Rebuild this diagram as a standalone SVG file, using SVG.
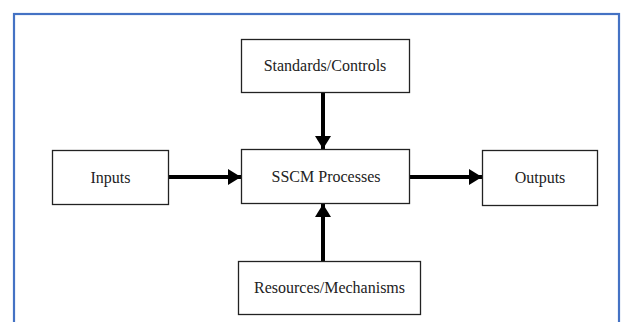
<svg xmlns="http://www.w3.org/2000/svg" width="623" height="322" viewBox="0 0 623 322">
<style>
.box{fill:#fff;stroke:#222;stroke-width:1.3}
.lbl{font-family:"Liberation Serif","Times New Roman",serif;font-size:16px;fill:#222;text-anchor:middle}
.con{stroke:#000;stroke-width:4;fill:none;marker-end:url(#ah)}
</style>
<defs>
<marker id="ah" markerUnits="userSpaceOnUse" markerWidth="14" markerHeight="16" refX="13" refY="8" orient="auto">
<path d="M0,0 L13,8 L0,16 Z" fill="#000"/>
</marker>
</defs>
<rect x="0" y="0" width="623" height="322" fill="#fff"/>
<rect x="14" y="14" width="605" height="330" fill="none" stroke="#4472C4" stroke-width="2.2"/>
<g id="connectors">
<line class="con" x1="323" y1="93" x2="323" y2="149"/>
<line class="con" x1="169" y1="177" x2="241" y2="177"/>
<line class="con" x1="410" y1="177" x2="482" y2="177"/>
<line class="con" x1="323" y1="261" x2="323" y2="204"/>
</g>
<g id="standards">
<rect class="box" x="241.5" y="39.5" width="168" height="53"/>
<text class="lbl" x="325" y="71">Standards/Controls</text>
</g>
<g id="inputs">
<rect class="box" x="52.5" y="150.5" width="116" height="54"/>
<text class="lbl" x="110.5" y="183">Inputs</text>
</g>
<g id="sscm">
<rect class="box" x="241.5" y="149.5" width="168" height="54"/>
<text class="lbl" x="326" y="182">SSCM Processes</text>
</g>
<g id="outputs">
<rect class="box" x="482.5" y="150.5" width="115" height="55"/>
<text class="lbl" x="540" y="183">Outputs</text>
</g>
<g id="resources">
<rect class="box" x="238.5" y="261.5" width="182" height="53"/>
<text class="lbl" x="329.5" y="293">Resources/Mechanisms</text>
</g>
</svg>
